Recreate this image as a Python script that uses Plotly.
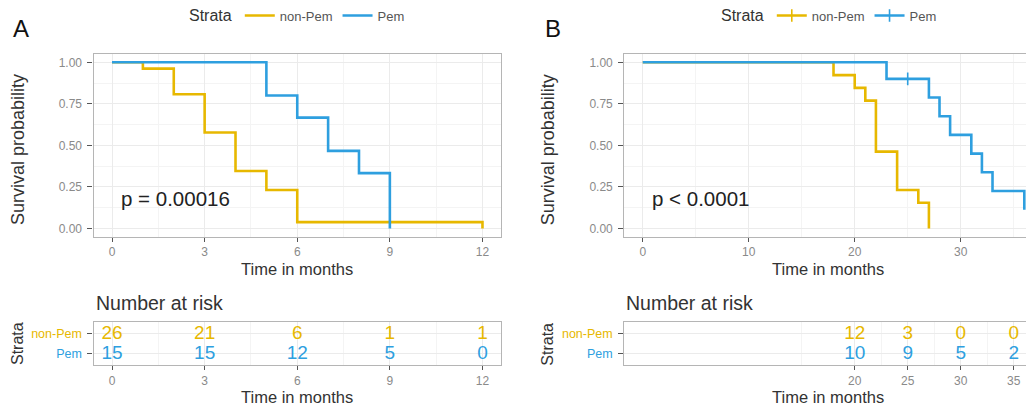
import plotly.graph_objects as go

YELLOW = "#E7B800"
BLUE = "#2E9FDF"
FONT = "Liberation Sans, Arial, sans-serif"

# ---------------- data ----------------
strata = ["non-Pem", "Pem"]

# Panel A survival curves
a_np_t = [0, 1, 2, 3, 4, 5, 6, 12]
a_np_s = [1.0, 0.962, 0.808, 0.577, 0.346, 0.231, 0.038, 0.0]
a_p_t = [0, 5, 6, 7, 8, 9]
a_p_s = [1.0, 0.800, 0.667, 0.467, 0.333, 0.0]

# Panel B survival curves
b_np_t = [0, 18, 20, 21, 22, 24, 26, 27]
b_np_s = [1.0, 0.923, 0.846, 0.769, 0.462, 0.231, 0.154, 0.0]
b_p_t = [0, 23, 27, 28, 29, 31, 32, 33, 36]
b_p_s = [1.0, 0.900, 0.788, 0.675, 0.563, 0.450, 0.338, 0.225, 0.113]
b_cens_t = [25]
b_cens_s = [0.900]

# Number at risk
a_risk_t = [0, 3, 6, 9, 12]
a_risk_np = [26, 21, 6, 1, 1]
a_risk_p = [15, 15, 12, 5, 0]
b_risk_t = [20, 25, 30, 35]
b_risk_np = [12, 3, 0, 0]
b_risk_p = [10, 9, 5, 2]

# ticks
a_xticks = [0, 3, 6, 9, 12]
a_xminor = [1.5, 4.5, 7.5, 10.5]
b_xticks = [0, 10, 20, 30]
b_xminor = [5, 15, 25, 35]
b_table_ticks = [20, 25, 30, 35]
b_table_minor = [15, 22.5, 27.5, 32.5]
y_ticks = [0, 0.25, 0.5, 0.75, 1.0]
y_minor = [0.125, 0.375, 0.625, 0.875]
p_text_a = "p = 0.00016"
p_text_b = "p < 0.0001"

W, H = 1026, 406
def px(x):
    return x / W
def py(y):
    return 1 - y / H

fig = go.Figure()

# ---- curves ----
def curve(t, s, color, xa, ya, name, legend, show):
    fig.add_trace(go.Scatter(x=t, y=s, mode="lines", line=dict(color=color, width=2.6, shape="hv"),
                             xaxis=xa, yaxis=ya, name=name, legend=legend, showlegend=show,
                             hoverinfo="skip"))

curve(a_np_t, a_np_s, YELLOW, "x", "y", strata[0], "legend", True)
curve(a_p_t, a_p_s, BLUE, "x", "y", strata[1], "legend", True)
curve(b_np_t, b_np_s, YELLOW, "x3", "y3", strata[0], "legend2", False)
curve(b_p_t, b_p_s, BLUE, "x3", "y3", strata[1], "legend2", False)

# censor marks
fig.add_trace(go.Scatter(x=b_cens_t, y=b_cens_s, mode="markers", xaxis="x3", yaxis="y3",
                         marker=dict(symbol="line-ns", size=9, color=BLUE, line=dict(width=1.6, color=BLUE)),
                         showlegend=False, hoverinfo="skip"))

# legend entries for B (line + censor cross)
for nm, col in zip(strata, [YELLOW, BLUE]):
    fig.add_trace(go.Scatter(x=[None], y=[None], mode="lines+markers", xaxis="x3", yaxis="y3",
                             line=dict(color=col, width=2.6),
                             marker=dict(symbol="line-ns", size=9, color=col, line=dict(width=1.6, color=col)),
                             name=nm, legend="legend2", showlegend=True))

# ---- risk tables ----
def risk(t, vals, row, color, xa, ya):
    fig.add_trace(go.Scatter(x=t, y=[row] * len(t), mode="text", text=[str(v) for v in vals],
                             textfont=dict(color=color, size=19, family=FONT),
                             textposition="middle center", xaxis=xa, yaxis=ya,
                             showlegend=False, hoverinfo="skip"))

risk(a_risk_t, a_risk_np, 2, YELLOW, "x2", "y2")
risk(a_risk_t, a_risk_p, 1, BLUE, "x2", "y2")
risk(b_risk_t, b_risk_np, 2, YELLOW, "x4", "y4")
risk(b_risk_t, b_risk_p, 1, BLUE, "x4", "y4")

# ---- axes ----
GRID = "#EBEBEB"
MINOR = "#F4F4F4"
BORDER = "#B5B5B5"
TICKC = "#8a8a8a"
tickfont = dict(family=FONT, size=12, color=TICKC)

ax_a = [px(93.5), px(501)]
ax_b = [px(624.3), 1.0]
main_y = [py(236.7), py(54)]
tab_y = [py(365), py(321.7)]

def xax(domain, rng, ticks, minor, anchor, mirror=True):
    return dict(domain=domain, range=rng, anchor=anchor, tickmode="array", tickvals=ticks,
                ticks="outside", ticklen=4, tickwidth=1.2, tickcolor="#555", tickfont=tickfont,
                showgrid=True, gridcolor=GRID, gridwidth=1.1,
                minor=dict(tickvals=minor, showgrid=True, gridcolor=MINOR, gridwidth=0.6),
                showline=True, linecolor=BORDER, linewidth=1.2, mirror=mirror, zeroline=False)

def yax(domain, rng, ticks, minor, anchor, mirror=True, ticktext=None, fmt=".2f"):
    d = dict(domain=domain, range=rng, anchor=anchor, tickmode="array", tickvals=ticks,
             ticks="outside", ticklen=5, tickwidth=1.2, tickcolor="#555", tickfont=tickfont,
             ticklabelstandoff=3,
             showgrid=True, gridcolor=GRID, gridwidth=1.1,
             minor=dict(tickvals=minor, showgrid=True, gridcolor=MINOR, gridwidth=0.6),
             showline=True, linecolor=BORDER, linewidth=1.2, mirror=mirror, zeroline=False)
    if ticktext is not None:
        d["ticktext"] = ticktext
    else:
        d["tickformat"] = fmt
    return d

a_rng = [-0.6, 12.6]
b_rng = [-1.74, 36.16]
row_labels = ['<span style="color:%s">%s</span>' % (BLUE, strata[1]),
              '<span style="color:%s">%s</span>' % (YELLOW, strata[0])]

fig.update_layout(
    xaxis=xax(ax_a, a_rng, a_xticks, a_xminor, "y"),
    yaxis=yax(main_y, [-0.05, 1.05], y_ticks, y_minor, "x"),
    xaxis2=xax(ax_a, a_rng, a_xticks, a_xminor, "y2"),
    yaxis2=yax(tab_y, [0.45, 2.6], [1, 2], [], "x2", ticktext=row_labels),
    xaxis3=xax(ax_b, b_rng, b_xticks, b_xminor, "y3"),
    yaxis3=yax(main_y, [-0.05, 1.05], y_ticks, y_minor, "x3", mirror=False),
    xaxis4=xax(ax_b, b_rng, b_table_ticks, b_table_minor, "y4"),
    yaxis4=yax(tab_y, [0.45, 2.6], [1, 2], [], "x4", mirror=False, ticktext=row_labels),
)
fig.layout.yaxis2.tickfont = dict(family=FONT, size=12.5)
fig.layout.yaxis4.tickfont = dict(family=FONT, size=12.5)

# ---- legends ----
leg_common = dict(orientation="h", yanchor="middle", xanchor="center", bgcolor="rgba(0,0,0,0)",
                  font=dict(family=FONT, size=13, color="#555"), itemwidth=30,
                  title=dict(text="Strata", side="left", font=dict(family=FONT, size=16, color="#333")))
fig.update_layout(
    legend=dict(x=px(298.5), y=py(16), **leg_common),
    legend2=dict(x=px(830.5), y=py(16), **leg_common),
)

# ---- annotations ----
ann = []
def text(x, y, s, size, color="#333", xanchor="center", yanchor="middle", angle=0, xref="paper", yref="paper"):
    ann.append(dict(x=x, y=y, text=s, showarrow=False, xref=xref, yref=yref, xanchor=xanchor,
                    yanchor=yanchor, textangle=angle, font=dict(family=FONT, size=size, color=color)))

text(px(11), py(29), "A", 24, "#111", xanchor="left")
text(px(543), py(29), "B", 24, "#111", xanchor="left")
for cx in (297, 828.3):
    text(px(cx), py(269.3), "Time in months", 16.5)
    text(px(cx), py(396.5), "Time in months", 16.5)
for lx in (18, 548.3):
    text(px(lx), py(150), "Survival probability", 18, angle=-90)
for lx in (17, 546.7):
    text(px(lx), py(344), "Strata", 16, angle=-90)
text(px(93.5), py(303), "Number at risk", 19.5, xanchor="left")
text(px(624.3), py(303), "Number at risk", 19.5, xanchor="left")
text(0.22, 0.18, p_text_a, 20.5, "#222", xanchor="left", xref="x", yref="y")
text(0.67, 0.18, p_text_b, 20.5, "#222", xanchor="left", xref="x3", yref="y3")

fig.update_layout(annotations=ann, width=W, height=H, margin=dict(l=0, r=0, t=0, b=0),
                  paper_bgcolor="white", plot_bgcolor="white", font=dict(family=FONT))

fig.write_html("out.html", config={"displayModeBar": False},
               post_script="document.body.style.margin='0';document.body.style.overflow='hidden';")
